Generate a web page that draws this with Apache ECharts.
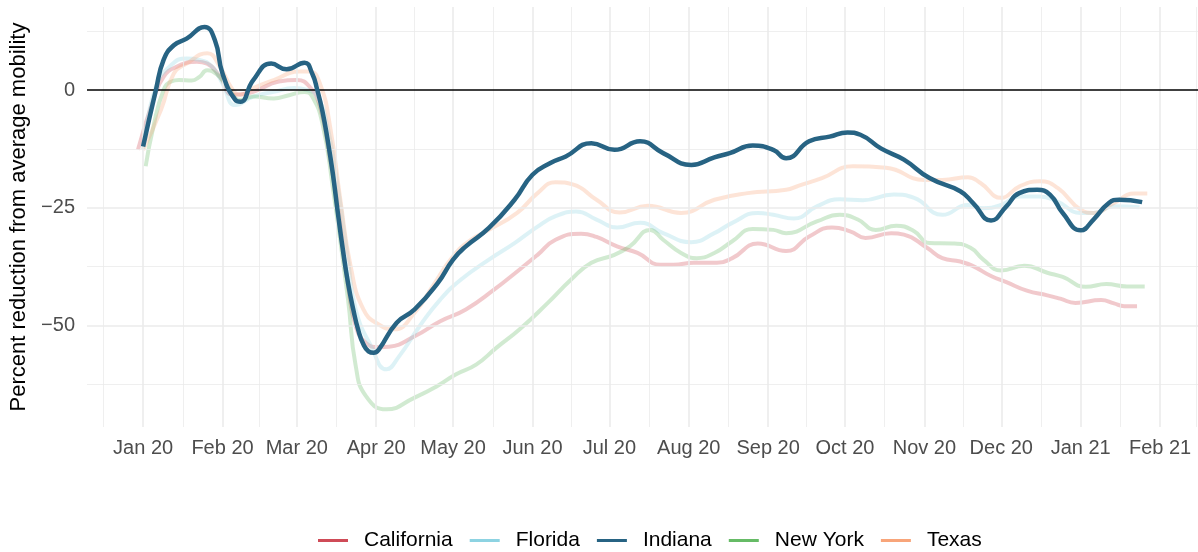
<!DOCTYPE html>
<html>
<head>
<meta charset="utf-8">
<script src="https://cdn.jsdelivr.net/npm/echarts@6/dist/echarts.min.js"></script>
<style>
  html, body { margin: 0; padding: 0; background: #fff; }
  #mobility-chart { width: 1198px; height: 552px; }
</style>
</head>
<body>
<div id="mobility-chart"></div>
<script>
  // [days since 2020-01-01, percent change from average mobility]
  const california = [[-2, -12.7], [4, -2.1], [8, 2.8], [13, 4.9], [21, 6.0], [25, 5.6], [30, 2.8], [35, -1.0], [43, -0.4], [53, 1.8], [60, 2.1], [65, 0.7], [69, -3.5], [73, -14.8], [76, -24.7], [80, -41.7], [83, -50.1], [87, -53.7], [92, -54.6], [96, -54.5], [106, -52.3], [116, -49.1], [126, -46.6], [137, -42.4], [147, -38.1], [154, -35.0], [161, -31.8], [171, -30.5], [177, -31.2], [185, -33.2], [193, -34.6], [202, -37.1], [207, -37.1], [215, -36.7], [224, -36.7], [230, -35.7], [240, -32.6], [251, -34.2], [260, -31.1], [269, -29.2], [276, -30.0], [282, -31.4], [292, -30.4], [297, -30.7], [306, -33.5], [312, -35.7], [319, -36.4], [324, -37.4], [331, -39.5], [337, -40.8], [345, -42.6], [353, -43.6], [358, -44.3], [364, -45.2], [374, -44.6], [379, -45.3], [383, -45.9], [388, -45.9]];
  const florida = [[0, -12.5], [5, 0.7], [11, 5.3], [17, 6.7], [22, 6.4], [27, 4.9], [31, 1.4], [36, -3.2], [43, -1.4], [51, -0.4], [59, 0.4], [64, 0.0], [68, -1.4], [72, -7.8], [76, -20.5], [80, -36.0], [83, -46.6], [89, -54.4], [95, -59.3], [100, -56.5], [108, -50.1], [116, -44.5], [124, -40.3], [135, -36.0], [145, -32.5], [154, -29.0], [161, -26.8], [169, -25.8], [177, -27.5], [185, -29.2], [194, -28.2], [203, -30.4], [214, -32.3], [223, -30.4], [230, -28.2], [240, -26.1], [246, -26.5], [254, -27.3], [263, -24.7], [272, -23.2], [281, -23.4], [293, -22.2], [301, -22.9], [312, -26.5], [322, -24.4], [328, -25.1], [335, -24.4], [342, -22.6], [350, -22.6], [357, -23.7], [366, -26.1], [371, -26.1], [379, -24.7], [389, -24.9]];
  const indiana = [[0, -12.0], [5, 0.0], [8, 6.4], [12, 9.5], [17, 10.9], [24, 13.4], [28, 10.6], [31, 3.5], [36, -2.1], [38, -2.5], [43, 2.1], [50, 5.6], [56, 4.4], [63, 5.8], [66, 3.5], [68, 0.0], [70, -4.5], [72, -10.5], [74, -17.5], [76, -26.0], [78, -34.0], [80, -41.0], [82, -46.5], [84, -51.0], [86, -54.0], [88, -55.5], [90, -55.8], [92, -55.1], [99, -49.4], [106, -46.6], [115, -41.0], [121, -36.0], [126, -33.2], [135, -29.3], [145, -23.3], [152, -18.0], [159, -15.5], [165, -14.1], [175, -11.3], [184, -12.7], [194, -10.9], [203, -13.4], [214, -15.9], [223, -14.3], [229, -13.4], [238, -11.8], [246, -12.7], [251, -14.5], [260, -10.9], [268, -9.9], [275, -9.0], [280, -9.5], [288, -12.4], [297, -14.8], [307, -18.7], [319, -21.5], [324, -24.0], [331, -27.7], [337, -24.7], [342, -21.9], [349, -21.2], [354, -22.2], [359, -26.1], [366, -29.8], [371, -27.5], [377, -24.0], [381, -23.3], [390, -23.8]];
  const newYork = [[1, -16.2], [4, -7.8], [8, 0.0], [11, 1.8], [14, 2.1], [19, 2.0], [22, 2.8], [25, 4.2], [29, 3.2], [33, 0.7], [38, -2.1], [43, -1.4], [51, -1.8], [57, -1.1], [63, -0.4], [66, -1.4], [70, -7.1], [74, -20.5], [80, -44.5], [83, -58.6], [87, -65.0], [95, -67.8], [106, -65.3], [115, -62.8], [122, -60.4], [130, -58.3], [138, -54.7], [147, -50.8], [158, -45.2], [167, -40.3], [175, -36.7], [184, -35.0], [190, -33.2], [198, -29.7], [203, -31.8], [210, -34.6], [216, -35.7], [223, -34.6], [230, -32.1], [238, -29.5], [246, -29.7], [251, -30.4], [263, -27.9], [272, -26.5], [279, -27.5], [286, -29.7], [294, -28.8], [301, -30.0], [307, -32.5], [316, -32.6], [323, -33.5], [328, -36.0], [335, -38.3], [344, -37.3], [353, -38.8], [359, -39.7], [368, -41.8], [376, -41.2], [384, -41.7], [391, -41.7]];
  const texas = [[0, -12.7], [7, -4.2], [12, 3.5], [17, 5.6], [25, 7.8], [30, 4.9], [35, 0.0], [38, -1.0], [43, 0.4], [51, 2.1], [61, 3.9], [65, 3.9], [69, 1.4], [73, -7.8], [77, -23.3], [81, -37.4], [86, -46.6], [92, -49.8], [98, -50.8], [106, -47.3], [113, -41.7], [121, -35.3], [128, -31.8], [135, -29.7], [146, -26.1], [154, -21.9], [161, -19.6], [168, -20.1], [177, -23.3], [186, -26.0], [197, -24.6], [210, -26.1], [223, -23.3], [236, -21.9], [251, -21.2], [256, -20.3], [265, -18.7], [277, -16.2], [290, -16.5], [305, -19.1], [312, -19.1], [322, -18.5], [327, -19.8], [335, -22.9], [342, -20.5], [350, -19.4], [357, -20.8], [366, -25.4], [371, -26.1], [379, -24.0], [387, -22.0], [392, -22.0]];

  const stateNames = ['California', 'Florida', 'Indiana', 'New York', 'Texas'];
  const stateColors = ['#CF4B57', '#8DD3E2', '#276383', '#66BB66', '#F8A57A'];

  const tickLabels = ['Jan 20', 'Feb 20', 'Mar 20', 'Apr 20', 'May 20', 'Jun 20', 'Jul 20',
    'Aug 20', 'Sep 20', 'Oct 20', 'Nov 20', 'Dec 20', 'Jan 21', 'Feb 21'];
  const yTicks = [-50, -25, 0];
  const yMinorTicks = [-62.5, -37.5, -12.5, 12.5];

  const dayMs = 86400000;
  const base = new Date(2020, 0, 1).getTime();
  const toTime = d => base + d * dayMs;

  // month starts, Dec 2019 .. Mar 2021 (outer ones only feed the minor lines)
  const monthStarts = [];
  for (let i = -1; i <= 14; i++) monthStarts.push(new Date(2020, i, 1).getTime());
  const majorX = monthStarts.slice(1, 15);
  const minorX = [];
  for (let i = 0; i < monthStarts.length - 1; i++) minorX.push((monthStarts[i] + monthStarts[i + 1]) / 2);

  const xMin = toTime(-21.9);
  const xMax = toTime(411.8);

  function hexToRgba(hex, a) {
    const n = parseInt(hex.slice(1), 16);
    return 'rgba(' + (n >> 16) + ',' + ((n >> 8) & 255) + ',' + (n & 255) + ',' + a + ')';
  }

  const chart = echarts.init(document.getElementById('mobility-chart'));
  const stateData = [california, florida, indiana, newYork, texas];

  const gridColor = '#ebebeb';
  const gridLine = w => ({ color: gridColor, width: w, type: 'solid' });
  const gridSeries = {
    name: 'grid',
    type: 'line',
    data: [],
    silent: true,
    z: 1,
    markLine: {
      silent: true,
      symbol: 'none',
      label: { show: false },
      animation: false,
      data: []
        .concat(minorX.filter(t => t > xMin && t < xMax).map(t => ({ xAxis: t, lineStyle: gridLine(0.8) })))
        .concat(yMinorTicks.map(v => ({ yAxis: v, lineStyle: gridLine(0.8) })))
        .concat(majorX.map(t => ({ xAxis: t, lineStyle: gridLine(1.6) })))
        .concat(yTicks.filter(v => v !== 0).map(v => ({ yAxis: v, lineStyle: gridLine(1.6) })))
    }
  };
  const zeroSeries = {
    name: 'zero',
    type: 'line',
    data: [],
    silent: true,
    z: 2,
    markLine: {
      silent: true,
      symbol: 'none',
      label: { show: false },
      animation: false,
      data: [{ yAxis: 0, lineStyle: { color: '#000', width: 1.6, type: 'solid' } }]
    }
  };

  const lineSeries = stateNames.map((name, i) => ({
    name: name,
    type: 'line',
    smooth: 0.5,
    showSymbol: false,
    z: name === 'Indiana' ? 5 : 3,
    itemStyle: { color: stateColors[i] },
    lineStyle: {
      color: name === 'Indiana' ? stateColors[i] : hexToRgba(stateColors[i], 0.3),
      width: name === 'Indiana' ? 4.5 : 4
    },
    data: stateData[i].map(p => [toTime(p[0]), p[1]])
  }));

  chart.setOption({
    animation: false,
    grid: { left: 87, right: 0, top: 7, bottom: 125, outerBoundsMode: 'none' },
    legend: {
      data: stateNames,
      top: 525,
      left: 313,
      icon: 'rect',
      itemWidth: 30,
      itemHeight: 3,
      itemGap: 17,
      textStyle: { fontFamily: 'Liberation Sans', fontSize: 21, color: '#000', padding: [0, 0, 0, 11] }
    },
    xAxis: {
      type: 'value',
      min: xMin,
      max: xMax,
      axisLine: { show: false },
      axisTick: { show: false },
      splitLine: { show: false },
      axisLabel: {
        customValues: majorX,
        margin: 11,
        fontFamily: 'Liberation Sans',
        fontSize: 20,
        color: '#4d4d4d',
        formatter: v => tickLabels[majorX.indexOf(v)]
      }
    },
    yAxis: {
      type: 'value',
      min: -71.55,
      max: 17.62,
      axisLine: { show: false },
      axisTick: { show: false },
      splitLine: { show: false },
      axisLabel: {
        customValues: yTicks,
        margin: 12,
        fontFamily: 'Liberation Sans',
        fontSize: 20,
        color: '#4d4d4d',
        formatter: v => String(v).replace('-', '\u2212')
      },
      name: 'Percent reduction from average mobility',
      nameLocation: 'middle',
      nameRotate: 90,
      nameGap: 54,
      nameTextStyle: { fontFamily: 'Liberation Sans', fontSize: 22, color: '#000' }
    },
    series: [gridSeries, zeroSeries].concat(lineSeries)
  });
</script>
</body>
</html>
